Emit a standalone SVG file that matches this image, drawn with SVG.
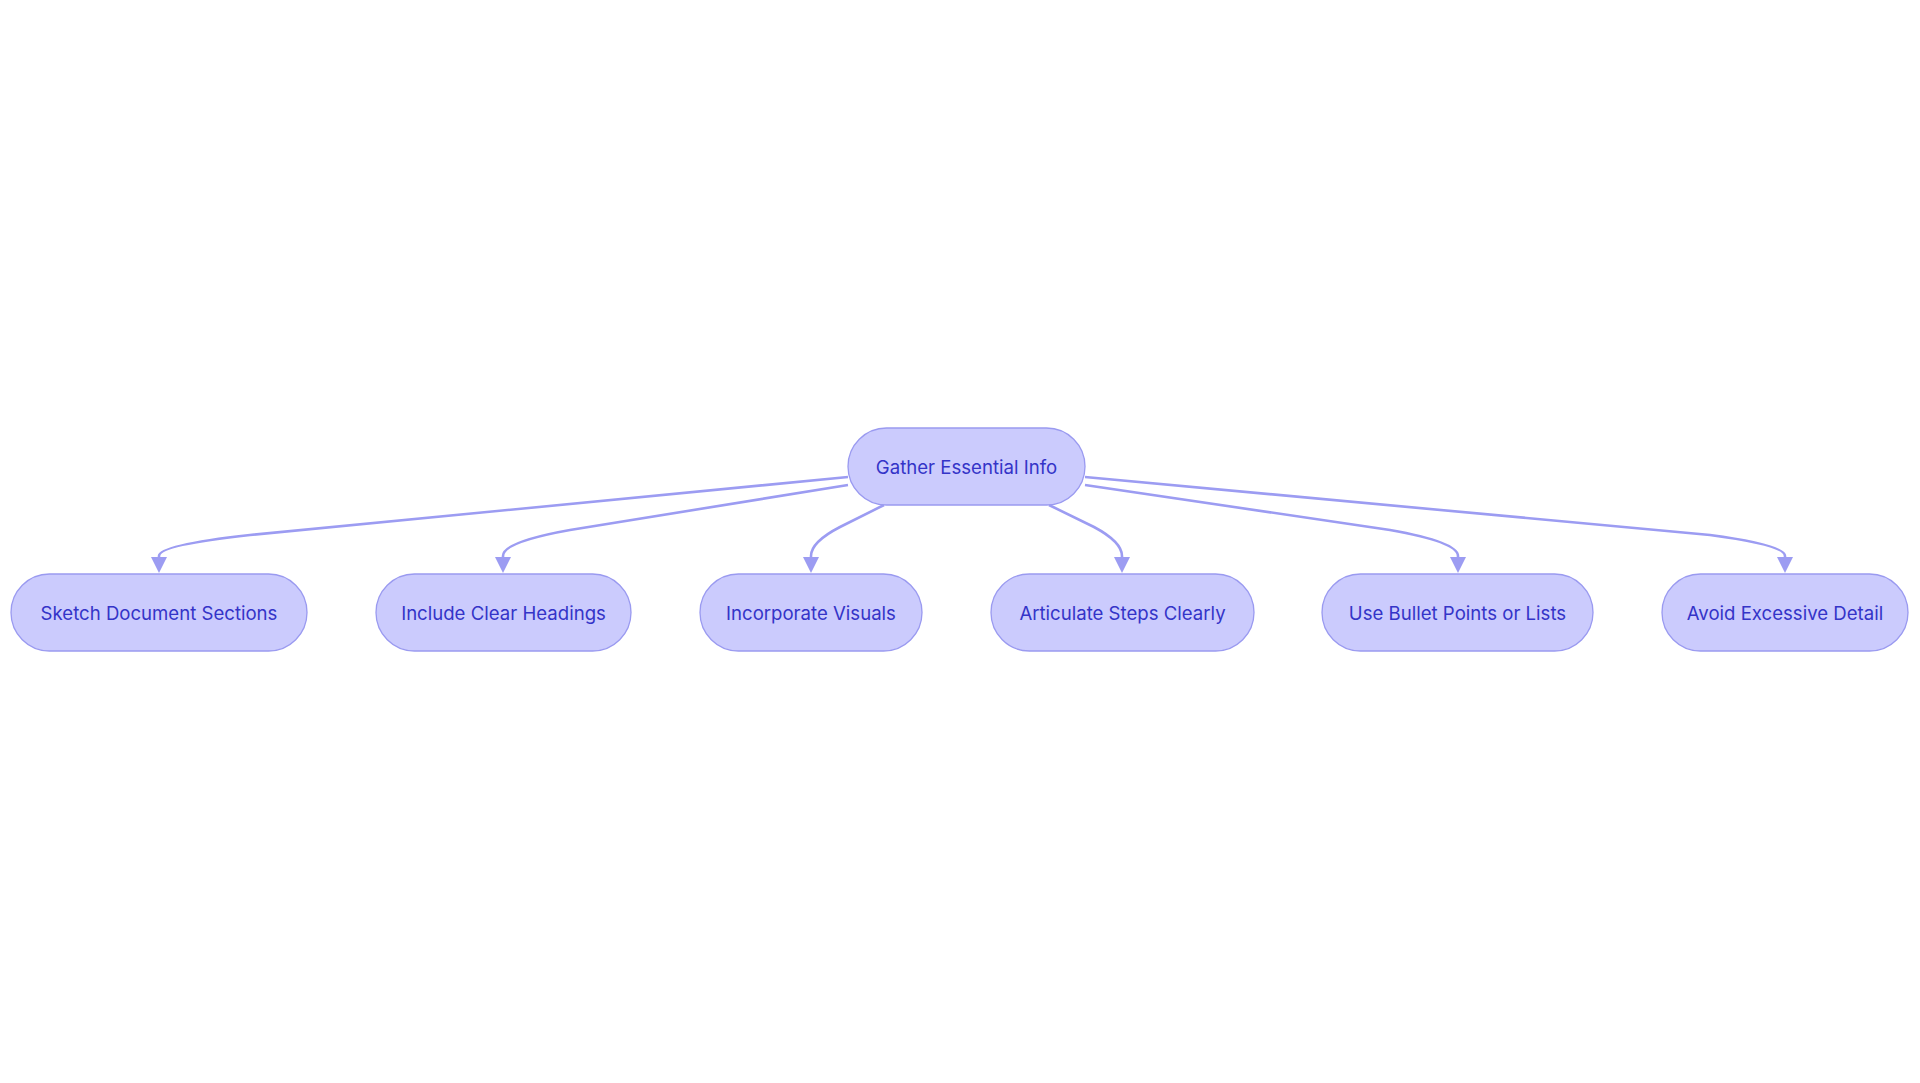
<svg xmlns="http://www.w3.org/2000/svg" width="1920" height="1083" viewBox="0 0 1920 1083">
<style>
.node rect{fill:#cbcbfd;stroke:#9a9af0;stroke-width:1.3}
.node text{font-family:Inter,"Noto Sans",sans-serif;font-size:18.6px;fill:#3434c8;text-anchor:middle;dominant-baseline:central}
.edges path{fill:none;stroke:#9c9cf2;stroke-width:2.6}
</style>
<defs>
<marker id="arr" markerUnits="userSpaceOnUse" viewBox="0 0 16 16" refX="8" refY="0" markerWidth="16" markerHeight="16" orient="0" overflow="visible">
<path d="M0,0 L16,0 L8,16 Z" fill="#9c9cf2"/>
</marker>
</defs>
<rect width="1920" height="1083" fill="#ffffff"/>
<g class="edges">
<path d="M848,477 L250,535 Q159,545 159,556 L159,557" marker-end="url(#arr)"/>
<path d="M848,485 L570,530 Q503,542 503,556 L503,557" marker-end="url(#arr)"/>
<path d="M884,505 L840,527 Q811,542 811,556 L811,557" marker-end="url(#arr)"/>
<path d="M1049,505 L1094,527 Q1122,542 1122,556 L1122,557" marker-end="url(#arr)"/>
<path d="M1085,485 L1390,530 Q1458,542 1458,556 L1458,557" marker-end="url(#arr)"/>
<path d="M1085,477 L1710,535 Q1785,545 1785,556 L1785,557" marker-end="url(#arr)"/>
</g>
<g id="root" class="node"><rect x="848" y="428" width="237" height="77" rx="38.5"/><text x="966.5" y="466.5">Gather Essential Info</text></g>
<g id="n1" class="node"><rect x="11" y="574" width="296" height="77" rx="38.5"/><text x="159" y="612.5">Sketch Document Sections</text></g>
<g id="n2" class="node"><rect x="376" y="574" width="255" height="77" rx="38.5"/><text x="503.5" y="612.5">Include Clear Headings</text></g>
<g id="n3" class="node"><rect x="700" y="574" width="222" height="77" rx="38.5"/><text x="811" y="612.5">Incorporate Visuals</text></g>
<g id="n4" class="node"><rect x="991" y="574" width="263" height="77" rx="38.5"/><text x="1122.5" y="612.5">Articulate Steps Clearly</text></g>
<g id="n5" class="node"><rect x="1322" y="574" width="271" height="77" rx="38.5"/><text x="1457.5" y="612.5">Use Bullet Points or Lists</text></g>
<g id="n6" class="node"><rect x="1662" y="574" width="246" height="77" rx="38.5"/><text x="1785" y="612.5">Avoid Excessive Detail</text></g>
</svg>
